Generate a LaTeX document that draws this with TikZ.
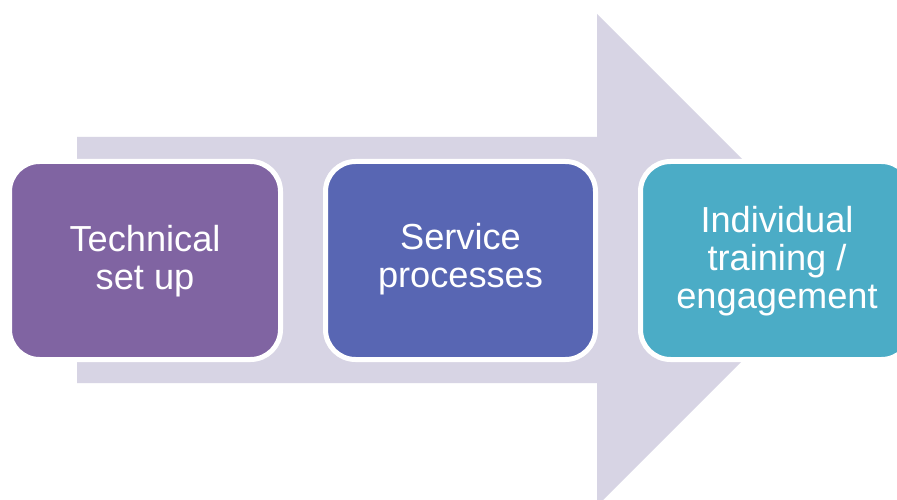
\documentclass[tikz,border=0pt]{standalone}
\usepackage{fontspec}
\setmainfont{Liberation Sans}
\definecolor{arrowfill}{HTML}{D7D4E4}
\definecolor{boxA}{HTML}{8064A2}
\definecolor{boxB}{HTML}{5866B3}
\definecolor{boxC}{HTML}{4BACC6}
\begin{document}
\begin{tikzpicture}[x=1pt,y=-1pt]
\tikzset{
  stepbox/.style={draw=white, line width=5pt, rounded corners=30pt},
  steptext/.style={text=white, align=center, font=\fontsize{36.2}{38}\selectfont, inner sep=0pt},
}
\useasboundingbox (0,0) rectangle (897,500);
\fill[white] (0,0) rectangle (897,500);
% big arrow
\fill[arrowfill] (77,137) -- (597,137) -- (597,14) -- (843,260) -- (597,506) -- (597,383) -- (77,383) -- cycle;
% boxes
\draw[stepbox, fill=boxA] (9.5,161.5) rectangle (280.5,359.5);
\draw[stepbox, fill=boxB] (325.5,161.5) rectangle (595.5,359.5);
\draw[stepbox, fill=boxC] (640.5,161.5) rectangle (911.5,359.5);
\node[steptext] (t1) at (145,261.5) {Technical\\set up};
\node[steptext] (t2) at (460.5,259.5) {Service\\processes};
\node[steptext] (t3) at (777,261) {Individual\\training /\\engagement};
\end{tikzpicture}
\end{document}
